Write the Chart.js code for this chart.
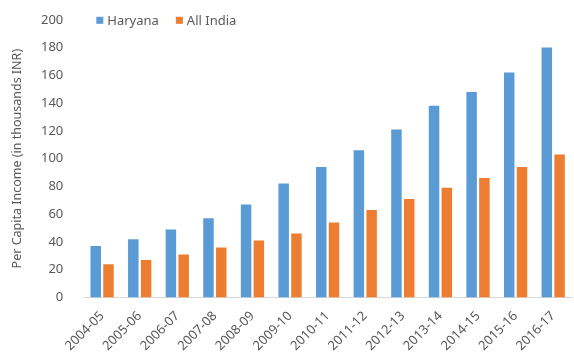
<!DOCTYPE html>
<html>
<head>
<meta charset="utf-8">
<script src="https://cdn.jsdelivr.net/npm/chart.js@4"></script>
<style>
  body { margin: 0; background: #fff; }
</style>
</head>
<body>
<canvas id="chart" width="574" height="364"></canvas>
<script>
// Years on the x axis
const years = ["2004-05", "2005-06", "2006-07", "2007-08", "2008-09", "2009-10",
  "2010-11", "2011-12", "2012-13", "2013-14", "2014-15", "2015-16", "2016-17"];

// Per capita income, thousands INR
const haryana = [37, 42, 49, 57, 67, 82, 94, 106, 121, 138, 148, 162, 180];
const allIndia = [24, 27, 31, 36, 41, 46, 54, 63, 71, 79, 86, 94, 103];

const textColor = "#595959";
const font = "Noto Sans";

// Horizontal legend drawn inside the top-left of the plot area
const insideLegend = {
  id: "insideLegend",
  afterDraw(chart) {
    const ctx = chart.ctx;
    const y = chart.chartArea.top;
    let x = chart.chartArea.left + 13;
    ctx.save();
    ctx.font = "13px " + font;
    ctx.textBaseline = "middle";
    chart.data.datasets.forEach(ds => {
      ctx.fillStyle = ds.backgroundColor;
      ctx.fillRect(x, y - 3, 7, 7);
      ctx.fillStyle = textColor;
      ctx.fillText(ds.label, x + 11, y + 1);
      x += 11 + ctx.measureText(ds.label).width + 17;
    });
    ctx.restore();
  }
};

new Chart(document.getElementById("chart"), {
  type: "bar",
  data: {
    labels: years,
    datasets: [
      { label: "Haryana", data: haryana, backgroundColor: "#5B9BD5" },
      { label: "All India", data: allIndia, backgroundColor: "#ED7D31" }
    ]
  },
  options: {
    responsive: false,
    animation: false,
    datasets: { bar: { categoryPercentage: 0.68, barPercentage: 0.82 } },
    layout: { padding: { left: 6, right: 2, top: 14, bottom: 7 } },
    plugins: {
      tooltip: { enabled: false },
      legend: { display: false }
    },
    scales: {
      x: {
        grid: { display: false },
        border: { color: "#d9d9d9" },
        ticks: {
          color: textColor,
          font: { family: font, size: 13 },
          minRotation: 45,
          maxRotation: 45
        }
      },
      y: {
        min: 0,
        max: 200,
        grid: { display: false },
        border: { display: false },
        ticks: {
          stepSize: 20,
          padding: 12,
          color: textColor,
          font: { family: font, size: 13 }
        },
        title: {
          display: true,
          text: "Per Capita Income (in thousands INR)",
          color: textColor,
          font: { family: font, size: 12.5 }
        }
      }
    }
  },
  plugins: [insideLegend]
});
</script>
</body>
</html>
